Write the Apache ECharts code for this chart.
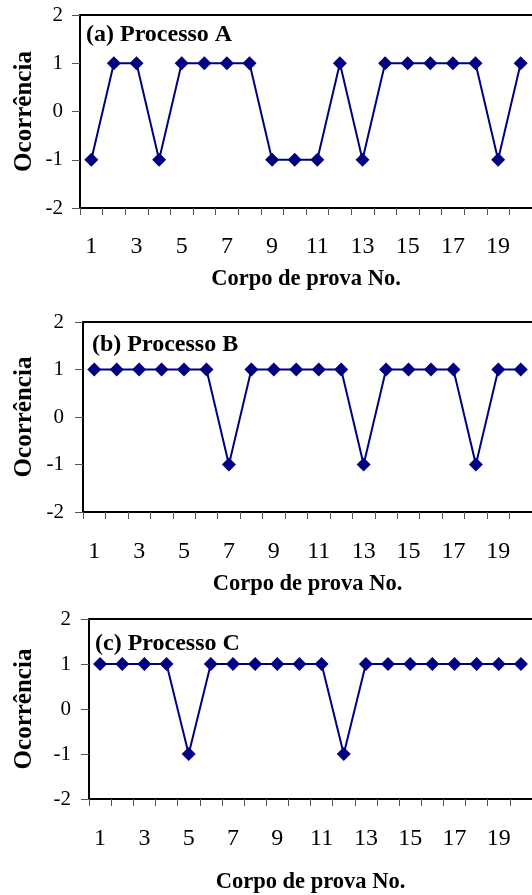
<!DOCTYPE html>
<html>
<head>
<meta charset="utf-8">
<script src="https://cdn.jsdelivr.net/npm/echarts@6/dist/echarts.min.js"></script>
<style>
  html, body { margin: 0; padding: 0; background: #fff; }
  #chart { width: 532px; height: 895px; }
</style>
</head>
<body>
<div id="chart"></div>
<script>
// Specimen numbers 1..20
const categories = ['1','2','3','4','5','6','7','8','9','10','11','12','13','14','15','16','17','18','19','20'];

// Occurrence per specimen (+1 / -1) for each process
const processA = [-1, 1, 1, -1, 1, 1, 1, 1, -1, -1, -1, 1, -1, 1, 1, 1, 1, 1, -1, 1];
const processB = [1, 1, 1, 1, 1, 1, -1, 1, 1, 1, 1, 1, -1, 1, 1, 1, 1, -1, 1, 1];
const processC = [1, 1, 1, 1, -1, 1, 1, 1, 1, 1, 1, -1, 1, 1, 1, 1, 1, 1, 1, 1];

const panelTitles = ['(a) Processo A', '(b) Processo B', '(c) Processo C'];
const xAxisTitle = 'Corpo de prova No.';
const yAxisTitle = 'Ocorrência';

const SERIF = '"Liberation Serif", "Times New Roman", serif';
const NAVY = '#000080';

// Panel geometry
const panels = [
  { left: 80, top: 15,  width: 453, height: 193, titleLeft: 86, titleTop: 23,  xNameGap: 60, yNameGap: 43, yLabelMargin: 17, xLabelMargin: 27 },
  { left: 83, top: 322, width: 450, height: 190, titleLeft: 92, titleTop: 333, xNameGap: 61, yNameGap: 46, yLabelMargin: 19, xLabelMargin: 28 },
  { left: 89, top: 619, width: 444, height: 183, titleLeft: 95, titleTop: 632, xNameGap: 72, yNameGap: 52, yLabelMargin: 18, xLabelMargin: 28 }
];
const seriesData = [processA, processB, processC];

const chart = echarts.init(document.getElementById('chart'), null, { renderer: 'canvas' });

// Bottom category axes carry ticks, labels and the axis title
const bottomAxes = panels.map((p, i) => ({
  type: 'category',
  gridIndex: i,
  position: 'bottom',
  data: categories,
  boundaryGap: true,
  name: xAxisTitle,
  nameLocation: 'middle',
  nameGap: p.xNameGap,
  nameMoveOverlap: false,
  nameTextStyle: { fontFamily: SERIF, fontWeight: 'bold', fontSize: 22.5, color: '#000' },
  axisLine: { show: true, onZero: false, lineStyle: { color: '#000', width: 2 } },
  axisTick: { show: true, alignWithLabel: false, interval: 0, length: 7, lineStyle: { color: '#555', width: 1 } },
  axisLabel: { interval: 1, margin: p.xLabelMargin, fontFamily: SERIF, fontSize: 24, color: '#000' },
  splitLine: { show: false }
}));

// Top axes only draw the upper frame line of each plot area
const topAxes = panels.map((p, i) => ({
  type: 'category',
  gridIndex: i,
  position: 'top',
  data: categories,
  axisLine: { show: true, onZero: false, lineStyle: { color: '#000', width: 2 } },
  axisTick: { show: false },
  axisLabel: { show: false },
  splitLine: { show: false }
}));

const option = {
  backgroundColor: '#fff',
  animation: false,
  title: panels.map((p, i) => ({
    text: panelTitles[i],
    left: p.titleLeft,
    top: p.titleTop,
    padding: 0,
    textStyle: { fontFamily: SERIF, fontWeight: 'bold', fontSize: 24, color: '#000' }
  })),
  grid: panels.map(p => ({
    left: p.left, top: p.top, width: p.width, height: p.height,
    show: false,
    containLabel: false
  })),
  xAxis: bottomAxes.concat(topAxes),
  yAxis: panels.map((p, i) => ({
    type: 'value',
    gridIndex: i,
    min: -2, max: 2, interval: 1,
    name: yAxisTitle,
    nameLocation: 'middle',
    nameRotate: 90,
    nameGap: p.yNameGap,
    nameMoveOverlap: false,
    nameTextStyle: { fontFamily: SERIF, fontWeight: 'bold', fontSize: 25, color: '#000' },
    axisLine: { show: true, onZero: false, lineStyle: { color: '#000', width: 2 } },
    axisTick: { show: true, length: 8, lineStyle: { color: '#555', width: 1 } },
    axisLabel: { margin: p.yLabelMargin, fontFamily: SERIF, fontSize: 21, color: '#000' },
    splitLine: { show: false }
  })),
  series: seriesData.map((d, i) => ({
    type: 'line',
    xAxisIndex: i,
    yAxisIndex: i,
    data: d,
    symbol: 'diamond',
    symbolSize: 14,
    showAllSymbol: true,
    lineStyle: { color: NAVY, width: 2 },
    itemStyle: { color: NAVY, borderWidth: 0 },
    emphasis: { disabled: true }
  }))
};

chart.setOption(option);
</script>
</body>
</html>
